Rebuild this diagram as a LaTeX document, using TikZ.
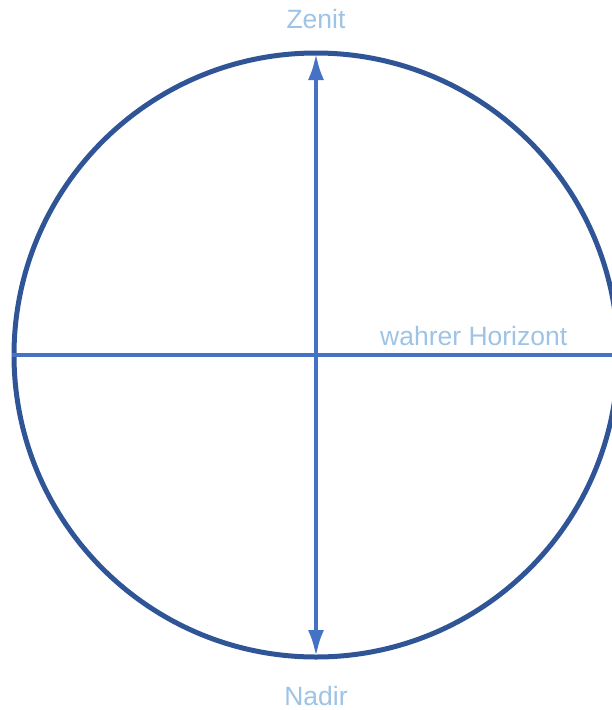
\documentclass[tikz,border=0pt]{standalone}
\usepackage{fontspec}
\setmainfont{Liberation Sans}
\usepackage{tikz}
\usepackage{xcolor}
\usetikzlibrary{arrows.meta, positioning}
\definecolor{Kreis_Blue}{HTML}{2F5597}
\definecolor{Achse_Blue}{HTML}{4472C4}
\definecolor{Label_Blue}{HTML}{9DC3E6}

\begin{document}
\begin{tikzpicture}[x=1pt, y=-1pt,
    achse/.style={Achse_Blue, line width=4.5pt},
    beschriftung/.style={text=Label_Blue, font=\fontsize{26.5}{30}\selectfont, inner sep=0pt}]

    \useasboundingbox (0,0) rectangle (612,710);

    % === Himmelskreis ===
    \node[circle, draw=Kreis_Blue, line width=5pt, minimum size=604pt, inner sep=0pt] (kreis) at (316,355) {};

    % === wahrer Horizont und Zenit-Nadir-Achse ===
    \draw[achse] (kreis.west) -- (kreis.east);
    \draw[achse, {Latex[length=27pt,width=16pt]}-{Latex[length=27pt,width=16pt]}, shorten <=2.5pt, shorten >=2.5pt] (kreis.south) -- (kreis.north);

    % === Beschriftungen ===
    \node[beschriftung, above=22pt of kreis.north] (zenit) {Zenit};
    \node[beschriftung, below=27pt of kreis.south] (nadir) {Nadir};
    \node[beschriftung, anchor=base west] (horizont) at (380,345) {wahrer Horizont};

\end{tikzpicture}
\end{document}
